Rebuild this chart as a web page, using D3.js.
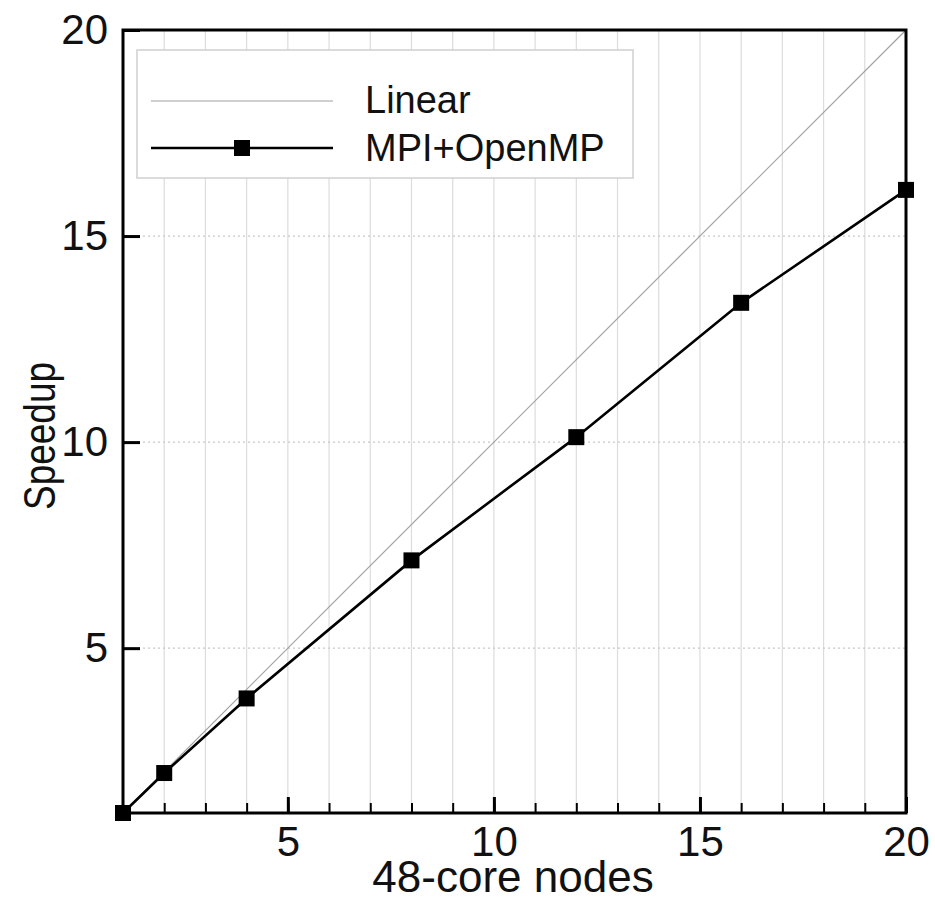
<!DOCTYPE html>
<html>
<head>
<meta charset="utf-8">
<script src="https://cdn.jsdelivr.net/npm/d3@7"></script>
<style>
  body { margin: 0; background: #fff; }
  text { font-family: "Liberation Sans", Arial, sans-serif; fill: #111; }
</style>
</head>
<body>
<svg id="chart" width="935" height="903"></svg>
<script>
// data
var nodes   = [1, 2, 4, 8, 12, 16, 20];
var speedup = [1, 1.97, 3.78, 7.13, 10.12, 13.38, 16.12];
var linear  = [1, 20];
var xTicks  = [5, 10, 15, 20];
var yTicks  = [5, 10, 15, 20];
var legendLabels = ["Linear", "MPI+OpenMP"];

var svg = d3.select('#chart');
var _margin = {top: 30, right: 29, bottom: 90, left: 123};
var _width  = +svg.attr("width")  - _margin.left - _margin.right;
var _height = +svg.attr("height") - _margin.top  - _margin.bottom;
var canvas = svg.append("g").attr("transform", `translate(${_margin.left}, ${_margin.top})`);

var x = d3.scaleLinear().domain([1, 20]).range([0, _width]);
var y = d3.scaleLinear().domain([1, 20]).range([_height, 0]);

var allInts = d3.range(2, 20);

// vertical grid at every integer
canvas.append("g")
  .selectAll("line")
  .data(allInts)
  .enter().append("line")
    .attr("x1", (d) => x(d)).attr("x2", (d) => x(d))
    .attr("y1", 0).attr("y2", _height)
    .attr("stroke", "#dcdcdc")
    .attr("stroke-width", 1.2);

// horizontal dotted grid at major ticks
canvas.append("g")
  .selectAll("line")
  .data(yTicks.filter((d) => d < 20))
  .enter().append("line")
    .attr("x1", 0).attr("x2", _width)
    .attr("y1", (d) => y(d)).attr("y2", (d) => y(d))
    .attr("stroke", "#c8c8c8")
    .attr("stroke-width", 1.2)
    .attr("stroke-dasharray", "2,3");

// linear reference
canvas.append("line")
  .attr("x1", x(linear[0])).attr("y1", y(linear[0]))
  .attr("x2", x(linear[1])).attr("y2", y(linear[1]))
  .attr("stroke", "#a0a0a0")
  .attr("stroke-width", 1.2);

// measured speedup
var _data = nodes.map((n, i) => ({n: n, s: speedup[i]}));
var line = d3.line().x((d) => x(d.n)).y((d) => y(d.s));

canvas.append("path")
  .datum(_data)
  .attr("d", line)
  .attr("fill", "none")
  .attr("stroke", "#000")
  .attr("stroke-width", 2.6);

var m = 16;

// frame
canvas.append("rect")
  .attr("width", _width).attr("height", _height)
  .attr("fill", "none")
  .attr("stroke", "#000")
  .attr("stroke-width", 3);

canvas.selectAll("rect.marker")
  .data(_data)
  .enter().append("rect")
    .attr("class", "marker")
    .attr("x", (d) => x(d.n) - m/2)
    .attr("y", (d) => y(d.s) - m/2)
    .attr("width", m).attr("height", m)
    .attr("fill", "#000");

// minor x ticks
var axMinor = d3.axisBottom(x).tickValues(allInts).tickSizeInner(-10).tickSizeOuter(0).tickFormat("");
canvas.append("g")
  .attr("transform", `translate(0, ${_height})`)
  .call(axMinor)
  .call((g) => g.select(".domain").remove())
  .call((g) => g.selectAll("line").attr("stroke", "#000").attr("stroke-width", 2));

var ax = d3.axisBottom(x).tickValues(xTicks).tickSizeInner(-16).tickSizeOuter(0).tickPadding(13);
canvas.append("g")
  .attr("class", "axis axis--x")
  .attr("transform", `translate(0, ${_height})`)
  .call(ax)
  .call((g) => g.select(".domain").remove())
  .call((g) => g.selectAll("line").attr("stroke", "#000").attr("stroke-width", 3))
  .call((g) => g.selectAll("text").attr("font-size", 42).attr("fill", "#111"));

var ay = d3.axisLeft(y).tickValues(yTicks).tickSizeInner(-17).tickSizeOuter(0).tickPadding(15);
canvas.append("g")
  .attr("class", "axis axis--y")
  .call(ay)
  .call((g) => g.select(".domain").remove())
  .call((g) => g.selectAll("line").attr("stroke", "#000").attr("stroke-width", 3))
  .call((g) => g.selectAll("text").attr("font-size", 42).attr("fill", "#111"));

// axis titles
svg.append("text")
  .attr("x", 513)
  .attr("y", 892)
  .attr("text-anchor", "middle")
  .attr("font-size", 44)
  .text("48-core nodes");

svg.append("text")
  .attr("transform", "translate(55, 436) rotate(-90)")
  .attr("text-anchor", "middle")
  .attr("font-size", 45)
  .attr("textLength", 148)
  .attr("lengthAdjust", "spacingAndGlyphs")
  .text("Speedup");

// legend
var lg = svg.append("g").attr("transform", "translate(137, 50)");
lg.append("rect")
  .attr("width", 496).attr("height", 128)
  .attr("fill", "#fff")
  .attr("stroke", "#d0d0d0")
  .attr("stroke-width", 1.5);

lg.append("line")
  .attr("x1", 14).attr("x2", 196).attr("y1", 51).attr("y2", 51)
  .attr("stroke", "#a0a0a0").attr("stroke-width", 1.2);
lg.append("line")
  .attr("x1", 14).attr("x2", 196).attr("y1", 98).attr("y2", 98)
  .attr("stroke", "#000").attr("stroke-width", 2.6);
lg.append("rect")
  .attr("x", 105 - m/2).attr("y", 98 - m/2)
  .attr("width", m).attr("height", m)
  .attr("fill", "#000");

lg.selectAll("text.lab")
  .data(legendLabels)
  .enter().append("text")
    .attr("class", "lab")
    .attr("x", 228)
    .attr("y", (d, i) => 63 + i * 48)
    .attr("font-size", 38)
    .text((d) => d);
</script>
</body>
</html>
